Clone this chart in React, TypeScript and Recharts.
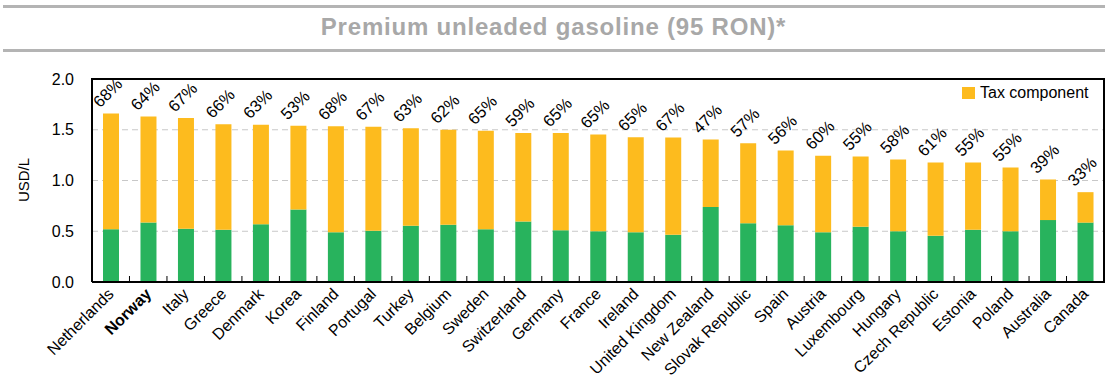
import React from "react";
import {
  BarChart,
  Bar,
  XAxis,
  YAxis,
  CartesianGrid,
  LabelList,
} from "recharts";

const countries = [
  "Netherlands", "Norway", "Italy", "Greece", "Denmark", "Korea", "Finland",
  "Portugal", "Turkey", "Belgium", "Sweden", "Switzerland", "Germany", "France",
  "Ireland", "United Kingdom", "New Zealand", "Slovak Republic", "Spain",
  "Austria", "Luxembourg", "Hungary", "Czech Republic", "Estonia", "Poland",
  "Australia", "Canada",
];

// price excluding tax (green), USD/L
const preTax = [
  0.52, 0.585, 0.525, 0.515, 0.57, 0.715, 0.49, 0.505, 0.555, 0.565, 0.52,
  0.595, 0.51, 0.5, 0.49, 0.465, 0.74, 0.58, 0.56, 0.49, 0.545, 0.5, 0.455,
  0.515, 0.5, 0.61, 0.585,
];

// total price incl. tax, USD/L
const total = [
  1.66, 1.63, 1.615, 1.555, 1.55, 1.54, 1.535, 1.53, 1.515, 1.5, 1.49, 1.467,
  1.467, 1.452, 1.425, 1.423, 1.405, 1.368, 1.295, 1.245, 1.237, 1.207, 1.177,
  1.177, 1.128, 1.01, 0.885,
];

const taxShare = [
  "68%", "64%", "67%", "66%", "63%", "53%", "68%", "67%", "63%", "62%", "65%",
  "59%", "65%", "65%", "65%", "67%", "47%", "57%", "56%", "60%", "55%", "58%",
  "61%", "55%", "55%", "39%", "33%",
];

const yTicks = [0, 0.5, 1, 1.5, 2];

const data = countries.map((c, i) => ({
  country: c,
  base: preTax[i],
  tax: +(total[i] - preTax[i]).toFixed(3),
  pct: taxShare[i],
}));

const FONT = "'Liberation Sans', Arial, sans-serif";
const YELLOW = "#FDBB1E";
const GREEN = "#28B35D";

// plot box
const PLOT_L = 92;
const PLOT_T = 79;
const PLOT_R = 1104;
const PLOT_B = 282;
const STEP = (PLOT_R - PLOT_L) / countries.length;

const CountryTick = (props: any) => {
  const { x, y, payload, index } = props;
  const bold = payload.value === "Norway";
  const axisY = y - 9;
  return (
    <g>
      {index > 0 && (
        <line x1={x - STEP / 2} x2={x - STEP / 2} y1={axisY} y2={axisY - 5} stroke="#000" />
      )}
      <text
        transform={`translate(${x + 4},${y + 5}) rotate(-45)`}
        textAnchor="end"
        fontSize={16}
        fontWeight={bold ? "bold" : "normal"}
        fill="#000"
        fontFamily={FONT}
      >
        {payload.value}
      </text>
    </g>
  );
};

const PctLabel = (props: any) => {
  const { x, y, width, value } = props;
  const cx = x + width / 2;
  return (
    <text
      transform={`translate(${cx - 11},${y - 5}) rotate(-45)`}
      textAnchor="start"
      fontSize={16.5}
      fill="#000"
      fontFamily={FONT}
    >
      {value}
    </text>
  );
};

const App = () => {
  return (
    <div style={{ position: "absolute", left: 0, top: 0, width: 1107, height: 379, background: "#fff" }}>
      <div style={{ position: "absolute", left: 3, top: 5, width: 1102, height: 3, background: "#B4B4B4" }} />
      <div
        style={{
          position: "absolute",
          left: 0,
          top: 13,
          width: 1107,
          textAlign: "center",
          fontFamily: FONT,
          fontWeight: "bold",
          fontSize: 24,
          letterSpacing: 0.8,
          color: "#A8A8A8",
        }}
      >
        Premium unleaded gasoline (95 RON)*
      </div>
      <div style={{ position: "absolute", left: 3, top: 49, width: 1102, height: 3, background: "#B4B4B4" }} />
      <div style={{ position: "absolute", left: 0, top: 0 }}>
        <BarChart
          width={1107}
          height={379}
          data={data}
          margin={{ top: PLOT_T, right: 1107 - PLOT_R, bottom: 0, left: 0 }}
          barSize={16}
        >
          <CartesianGrid
            vertical={false}
            stroke="#C8C8C8"
            strokeDasharray="6 4"
            horizontalValues={[0.5, 1, 1.5]}
          />
          <XAxis
            dataKey="country"
            interval={0}
            height={379 - PLOT_B}
            tick={<CountryTick />}
            tickLine={false}
            axisLine={{ stroke: "#000", strokeWidth: 2 }}
          />
          <YAxis
            domain={[0, 2]}
            ticks={yTicks}
            width={PLOT_L}
            tickFormatter={(v: number) => v.toFixed(1)}
            tick={{ fontSize: 16, fill: "#000", fontFamily: FONT }}
            tickLine={false}
            tickMargin={12}
            axisLine={{ stroke: "#000", strokeWidth: 2 }}
            label={{
              content: () => (
                <text
                  transform="translate(29,180) rotate(-90)"
                  textAnchor="middle"
                  fontSize={15}
                  fill="#000"
                  fontFamily={FONT}
                >
                  USD/L
                </text>
              ),
            }}
          />
          <Bar dataKey="base" stackId="p" fill={GREEN} isAnimationActive={false} legendType="none" />
          <Bar dataKey="tax" stackId="p" fill={YELLOW} isAnimationActive={false} name="Tax component">
            <LabelList dataKey="pct" content={<PctLabel />} />
          </Bar>
        </BarChart>
      </div>
      {/* frame top/right */}
      <div
        style={{
          position: "absolute",
          left: PLOT_L - 1,
          top: PLOT_T - 1,
          width: PLOT_R - PLOT_L,
          height: PLOT_B - PLOT_T,
          borderTop: "2px solid #000",
          borderRight: "2px solid #000",
          pointerEvents: "none",
        }}
      />
      {/* legend */}
      <div
        style={{
          position: "absolute",
          left: 962,
          top: 84,
          display: "flex",
          alignItems: "center",
          fontFamily: FONT,
          fontSize: 16,
          color: "#000",
        }}
      >
        <span style={{ width: 13, height: 12, background: YELLOW, display: "inline-block", marginRight: 5 }} />
        Tax component
      </div>
    </div>
  );
};

export default App;
